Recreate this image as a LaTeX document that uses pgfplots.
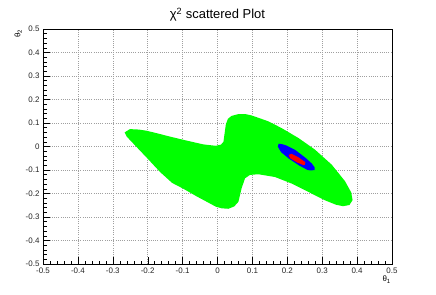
\documentclass[border=0pt]{standalone}
\usepackage{fontspec}
\setmainfont{Liberation Sans}
\usepackage{pgfplots}
\pgfplotsset{compat=1.18}
\begin{document}
\begin{tikzpicture}
\useasboundingbox (-43bp,-31bp) rectangle (393bp,264bp);
\begin{axis}[
  scale only axis,
  width=349bp, height=235bp,
  xmin=-0.5, xmax=0.5, ymin=-0.5, ymax=0.5,
  xtick={-0.5,-0.4,...,0.5}, ytick={-0.5,-0.4,...,0.5},
  xticklabels={-0.5,-0.4,-0.3,-0.2,-0.1,0,0.1,0.2,0.3,0.4,0.5},
  yticklabels={-0.5,-0.4,-0.3,-0.2,-0.1,0,0.1,0.2,0.3,0.4,0.5},
  minor tick num=4,
  tick pos=left,
  tick align=inside,
  major tick length=7bp, minor tick length=3.5bp,
  every tick/.style={black, line width=0.4pt},
  grid=major,
  major grid style={dash pattern=on 1bp off 1.2bp, gray!75, line width=0.5pt},
  axis line style={black, line width=0.6pt},
  tick label style={font=\fontsize{8}{9}\selectfont, text=black!85},
  /pgf/number format/assume math mode=true,
  title={\fontsize{13}{15}\selectfont χ\textsuperscript{2} scattered Plot},
  title style={yshift=-2bp},
  clip mode=individual,
]
% green region (broadest confidence)
\addplot[draw=none, fill={rgb,255:red,0;green,255;blue,0}] coordinates {
(-0.266,0.060) (-0.251,0.074) (-0.225,0.072) (-0.203,0.067) (-0.170,0.055)
(-0.136,0.042) (-0.088,0.025) (-0.041,0.009) (-0.005,0.003) (0.010,0.008)
(0.017,0.020) (0.021,0.063) (0.024,0.095) (0.030,0.118) (0.040,0.130)
(0.060,0.138) (0.080,0.138) (0.098,0.132) (0.146,0.107) (0.184,0.078)
(0.232,0.036) (0.279,-0.013) (0.327,-0.077) (0.365,-0.147) (0.383,-0.195)
(0.387,-0.228) (0.378,-0.249) (0.360,-0.254) (0.340,-0.248) (0.308,-0.229)
(0.260,-0.193) (0.213,-0.158) (0.165,-0.130) (0.117,-0.118) (0.093,-0.121)
(0.079,-0.135) (0.069,-0.178) (0.060,-0.235) (0.048,-0.255) (0.031,-0.265)
(0.012,-0.263) (-0.005,-0.256) (-0.021,-0.243) (-0.060,-0.212) (-0.100,-0.178)
(-0.130,-0.155) (-0.165,-0.108) (-0.200,-0.052) (-0.232,-0.002) (-0.260,0.042)
} -- cycle;
% blue region
\addplot[draw=none, fill={rgb,255:red,0;green,0;blue,255}] coordinates {
(0.173,-0.001) (0.175,0.012) (0.185,0.010) (0.196,0.005) (0.223,-0.015)
(0.252,-0.048) (0.270,-0.072) (0.278,-0.088) (0.278,-0.100) (0.268,-0.102)
(0.258,-0.100) (0.233,-0.080) (0.204,-0.051) (0.182,-0.024)
} -- cycle;
% red region
\addplot[draw=none, fill={rgb,255:red,255;green,0;blue,0}] coordinates {
(0.204,-0.036) (0.212,-0.031) (0.233,-0.047) (0.252,-0.067) (0.250,-0.078)
(0.246,-0.079) (0.228,-0.068) (0.208,-0.050)
} -- cycle;
\node[xshift=-21bp, rotate=90, anchor=south east, inner sep=0pt, font=\fontsize{8}{9}\selectfont]
  at (rel axis cs:0,1) {θ\textsubscript{2}};
\node[anchor=north east, inner sep=0pt, font=\fontsize{8}{9}\selectfont]
  at (rel axis cs:1,0) [yshift=-12bp, xshift=-1bp] {θ\textsubscript{1}};
\end{axis}
\end{tikzpicture}
\end{document}
